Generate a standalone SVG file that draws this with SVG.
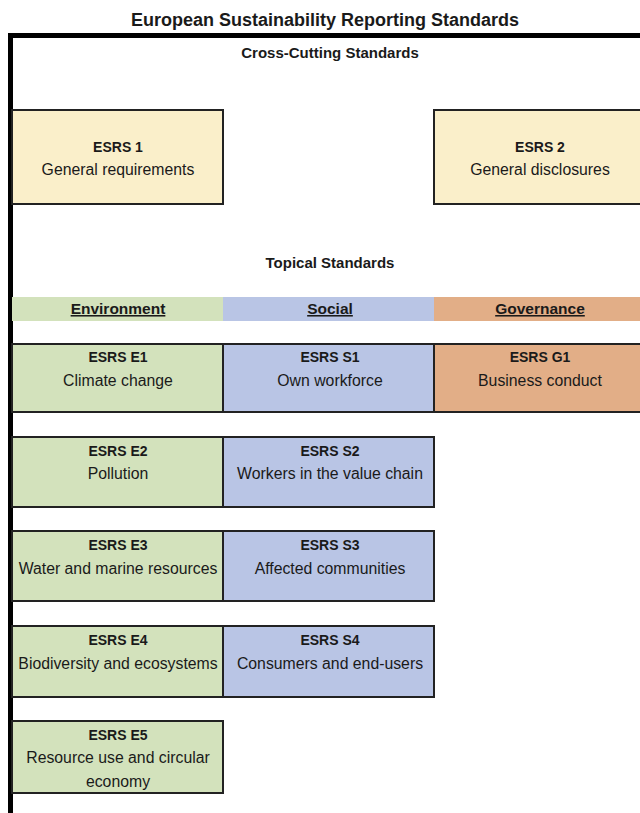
<svg xmlns="http://www.w3.org/2000/svg" width="640" height="813" viewBox="0 0 640 813">
<style>
text{font-family:"Liberation Sans",Arial,sans-serif;fill:#1a1a1a;text-anchor:middle}
.t{font-weight:bold;font-size:18px}
.h{font-weight:bold;font-size:15px}
.b{font-weight:bold;font-size:14px}
.s{font-size:15.8px}
.u{font-weight:bold;font-size:15.5px;text-decoration:underline}
.box{stroke:#222;stroke-width:2}
.y{fill:#faefca}.g{fill:#d3e2bc}.bl{fill:#b9c5e5}.o{fill:#e2ae87}
</style>
<rect width="640" height="813" fill="#fff"/>
<text class="t" x="325" y="26">European Sustainability Reporting Standards</text>
<g id="frame"><rect x="8" y="33" width="632" height="5" fill="#000"/><rect x="8" y="33" width="5" height="780" fill="#000"/></g>
<text class="h" x="330" y="58">Cross-Cutting Standards</text>
<g id="esrs1"><rect class="box y" x="12" y="110" width="211" height="94"/><text class="b" x="118" y="152">ESRS 1</text><text class="s" x="118" y="175">General requirements</text></g>
<g id="esrs2"><rect class="box y" x="434" y="110" width="210" height="94"/><text class="b" x="540" y="152">ESRS 2</text><text class="s" x="540" y="175">General disclosures</text></g>
<text class="h" x="330" y="268">Topical Standards</text>
<g id="headers">
<rect class="g" x="12" y="297" width="211" height="24"/><text class="u" x="118" y="314">Environment</text>
<rect class="bl" x="223" y="297" width="211" height="24"/><text class="u" x="330" y="314">Social</text>
<rect class="o" x="434" y="297" width="206" height="24"/><text class="u" x="540" y="314">Governance</text>
</g>
<g id="e1"><rect class="box g" x="12" y="344" width="211" height="68"/><text class="b" x="118" y="362">ESRS E1</text><text class="s" x="118" y="386">Climate change</text></g>
<g id="s1"><rect class="box bl" x="223" y="344" width="211" height="68"/><text class="b" x="330" y="362">ESRS S1</text><text class="s" x="330" y="386">Own workforce</text></g>
<g id="g1"><rect class="box o" x="434" y="344" width="210" height="68"/><text class="b" x="540" y="362">ESRS G1</text><text class="s" x="540" y="386">Business conduct</text></g>
<g id="e2"><rect class="box g" x="12" y="437" width="211" height="70"/><text class="b" x="118" y="456">ESRS E2</text><text class="s" x="118" y="479">Pollution</text></g>
<g id="s2"><rect class="box bl" x="223" y="437" width="211" height="70"/><text class="b" x="330" y="456">ESRS S2</text><text class="s" x="330" y="479">Workers in the value chain</text></g>
<g id="e3"><rect class="box g" x="12" y="531" width="211" height="70"/><text class="b" x="118" y="550">ESRS E3</text><text class="s" x="118" y="574">Water and marine resources</text></g>
<g id="s3"><rect class="box bl" x="223" y="531" width="211" height="70"/><text class="b" x="330" y="550">ESRS S3</text><text class="s" x="330" y="574">Affected communities</text></g>
<g id="e4"><rect class="box g" x="12" y="626" width="211" height="71"/><text class="b" x="118" y="645">ESRS E4</text><text class="s" x="118" y="669">Biodiversity and ecosystems</text></g>
<g id="s4"><rect class="box bl" x="223" y="626" width="211" height="71"/><text class="b" x="330" y="645">ESRS S4</text><text class="s" x="330" y="669">Consumers and end-users</text></g>
<g id="e5"><rect class="box g" x="12" y="721" width="211" height="72"/><text class="b" x="118" y="740">ESRS E5</text><text class="s" x="118" y="763">Resource use and circular</text><text class="s" x="118" y="787">economy</text></g>
<g id="connectors"/>
</svg>
